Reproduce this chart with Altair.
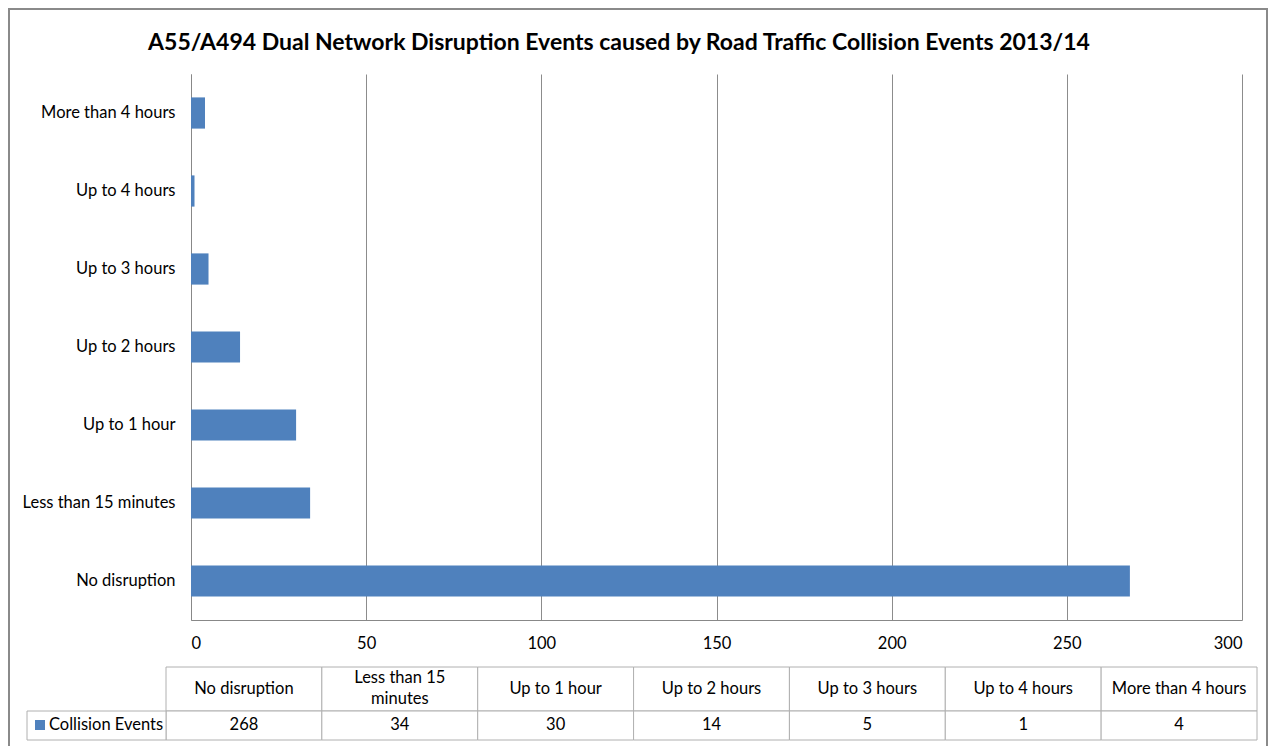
import altair as alt
import pandas as pd

categories = ["No disruption", "Less than 15 minutes", "Up to 1 hour", "Up to 2 hours",
              "Up to 3 hours", "Up to 4 hours", "More than 4 hours"]
header_text = ["No disruption", "Less than 15\nminutes", "Up to 1 hour", "Up to 2 hours",
               "Up to 3 hours", "Up to 4 hours", "More than 4 hours"]
values = [268, 34, 30, 14, 5, 1, 4]
series_name = "Collision Events"
title_text = "A55/A494 Dual Network Disruption Events caused by Road Traffic Collision Events 2013/14"

df = pd.DataFrame({"cat": categories, "value": values, "header": header_text})

FONT = "Lato"
FS = 16.5
BLUE = "#4F81BD"
W, H = 1051, 546

bars = alt.Chart(df).mark_bar(color=BLUE).encode(
    x=alt.X("value:Q", scale=alt.Scale(domain=[0, 300], nice=False),
            axis=alt.Axis(values=[0, 50, 100, 150, 200, 250, 300], title=None, ticks=False,
                          domainColor="#888888", gridColor="#8c8c8c", grid=True,
                          labelFontSize=FS, labelColor="#000000", labelFont=FONT,
                          labelPadding=15)),
    y=alt.Y("cat:N", scale=alt.Scale(domain=categories[::-1], paddingInner=0.6, paddingOuter=0.3),
            axis=alt.Axis(title=None, ticks=False, domainColor="#888888", grid=False,
                          labelFontSize=FS, labelColor="#000000", labelFont=FONT,
                          labelPadding=16)),
)

table_x = alt.X("cat:N", scale=alt.Scale(domain=categories, range=[-25, 1066],
                                          paddingInner=0, paddingOuter=0), axis=None)

header_cells = alt.Chart(df).mark_rect(fill="white", stroke="#b0b0b0", strokeWidth=1).encode(
    x=table_x, y=alt.value(593), y2=alt.value(637))
data_cells = alt.Chart(df).mark_rect(fill="white", stroke="#b0b0b0", strokeWidth=1).encode(
    x=table_x, y=alt.value(637), y2=alt.value(666))
header_single = alt.Chart(df).transform_filter(
    "indexof(datum.header, '\\n') < 0"
).mark_text(font=FONT, fontSize=FS, color="#000000", baseline="middle").encode(
    x=table_x, y=alt.value(615), text="header:N")
header_double = alt.Chart(df).transform_filter(
    "indexof(datum.header, '\\n') >= 0"
).mark_text(font=FONT, fontSize=FS, color="#000000", lineBreak="\n", lineHeight=21,
            baseline="middle").encode(
    x=table_x, y=alt.value(604), text="header:N")
data_labels = alt.Chart(df).mark_text(font=FONT, fontSize=FS, color="#000000",
                                       baseline="middle").encode(
    x=table_x, y=alt.value(651), text="value:Q")

one = pd.DataFrame({"name": [series_name], "title": [title_text]})
label_cell = alt.Chart(one).mark_rect(fill="white", stroke="#b0b0b0", strokeWidth=1).encode(
    x=alt.value(-164), x2=alt.value(-25), y=alt.value(637), y2=alt.value(666))
legend_sq = alt.Chart(one).mark_square(color=BLUE, opacity=1, size=100).encode(
    x=alt.value(-151), y=alt.value(651))
legend_txt = alt.Chart(one).mark_text(font=FONT, fontSize=FS, color="#000000",
                                       align="left", baseline="middle").encode(
    x=alt.value(-142), y=alt.value(651), text="name:N")
title_mark = alt.Chart(one).mark_text(font=FONT, fontSize=23, fontWeight="bold",
                                       color="#000000", align="center", baseline="middle").encode(
    x=alt.value(428), y=alt.value(-31), text="title:N")

outer = alt.Chart(one).mark_rect(fill=None, stroke="#8a8a8a", strokeWidth=2).encode(
    x=alt.value(-182), x2=alt.value(1076), y=alt.value(-65), y2=alt.value(720))

chart = alt.layer(
    outer, bars, header_cells, data_cells, label_cell, header_single, header_double,
    data_labels, legend_sq, legend_txt, title_mark
).resolve_scale(x="independent").properties(
    width=W, height=H,
    autosize=alt.AutoSizeParams(type="none"),
    padding={"left": 183, "top": 66, "right": 27, "bottom": 126},
    background="white",
).configure_view(stroke=None)

chart.save("out.html", embed_options={"renderer": "svg", "actions": False})
